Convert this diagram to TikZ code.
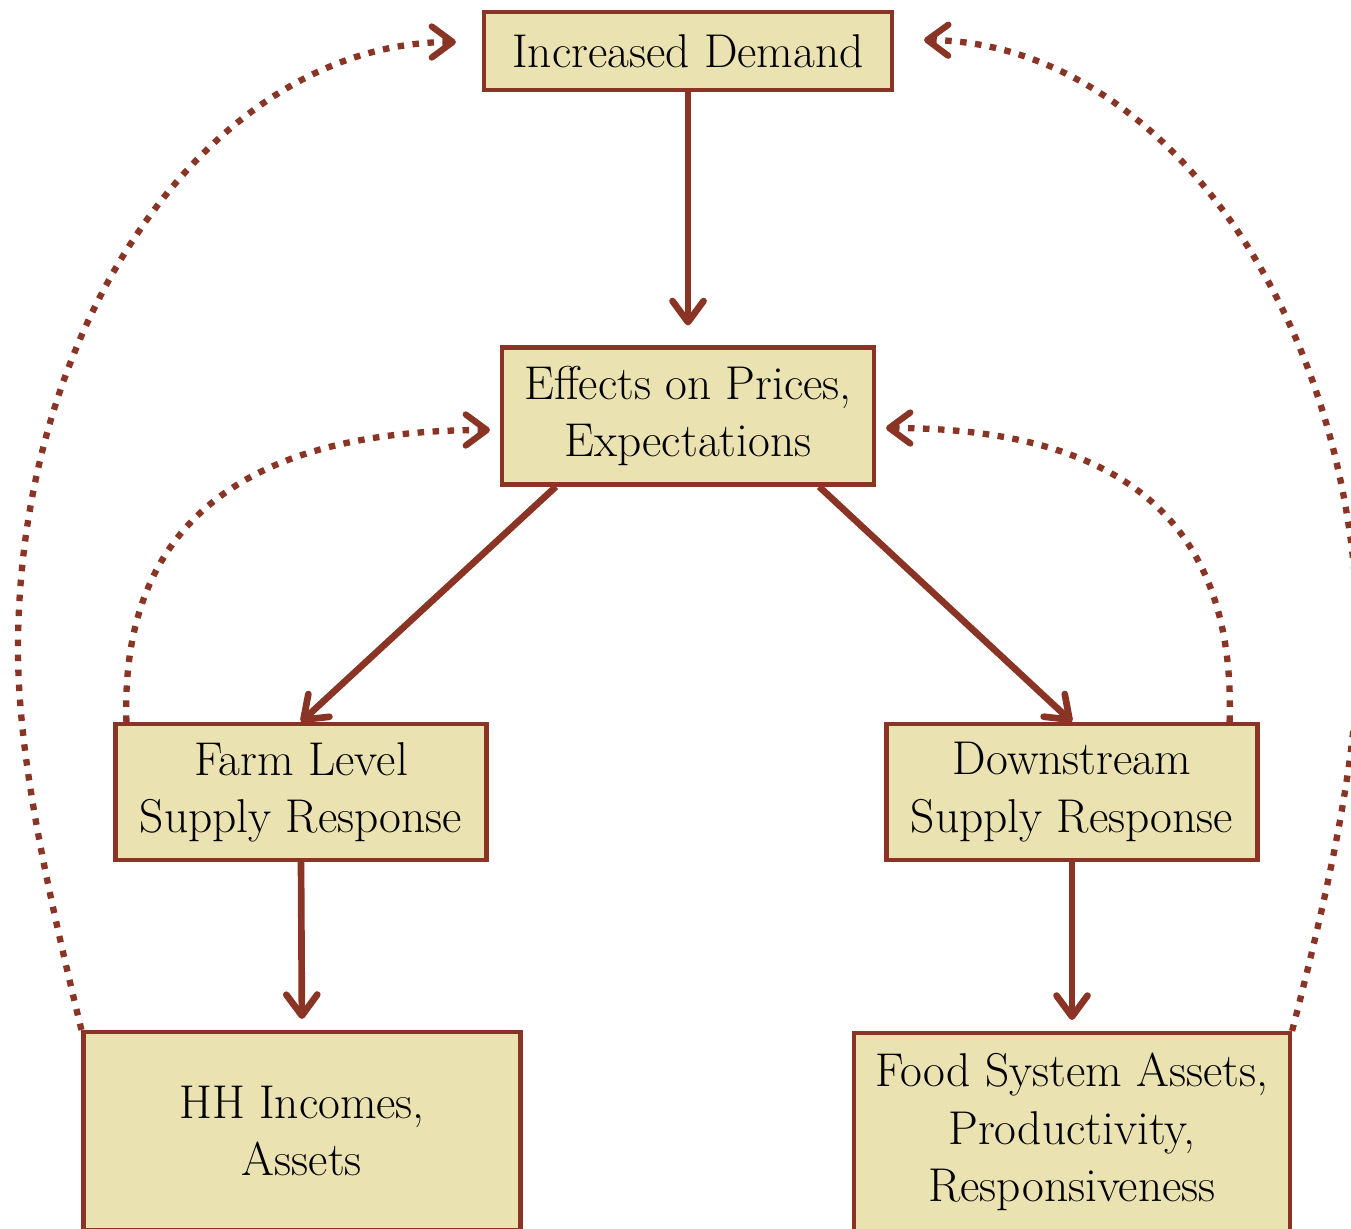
\documentclass[tikz,border=0pt]{standalone}
\usetikzlibrary{arrows.meta}
\begin{document}
\begin{tikzpicture}[x=0.02cm, y=-0.02cm]
\definecolor{edge}{HTML}{8A3426}
\definecolor{boxfill}{HTML}{EAE2B1}
\tikzset{
  box/.style={draw=edge, fill=boxfill, line width=2.4pt, align=center, inner sep=0pt, font=\fontsize{27}{32.6}\selectfont},
  link/.style={draw=edge, line width=3.8pt, -{Straight Barb[length=0.42cm, width=0.62cm, round]}},
  feedback/.style={link, line width=3.6pt, dash pattern=on 0.13cm off 0.17cm},
}
\useasboundingbox (0,0) rectangle (1351,1228);
\node[box, minimum width=8.16cm, minimum height=1.56cm] (demand) at (688,51) {Increased Demand};
\node[box, minimum width=7.44cm, minimum height=2.74cm] (effects) at (688,416) {Effects on Prices,\\Expectations};
\node[box, minimum width=7.42cm, minimum height=2.72cm] (farm) at (301,792) {Farm Level\\Supply Response};
\node[box, minimum width=7.42cm, minimum height=2.72cm] (downstream) at (1072,792) {Downstream\\Supply Response};
\node[box, minimum width=8.74cm, minimum height=3.96cm] (hh) at (302,1131) {HH Incomes,\\Assets};
\node[box, minimum width=8.72cm, minimum height=3.96cm] (food) at (1072,1132) {Food System Assets,\\Productivity,\\Responsiveness};
\draw[link, shorten >=0.4cm] (demand.south) -- (effects.north);
\draw[link] ([xshift=1.12cm]effects.south west) -- (farm.north);
\draw[link] ([xshift=-1.14cm]effects.south east) -- (downstream.north);
\draw[link, shorten >=0.22cm] (farm.south) -- (hh.north);
\draw[link, shorten >=0.22cm] (downstream.south) -- (food.north);
\draw[feedback] ([xshift=0.26cm]farm.north west) .. controls (120,520) and (250,430) .. ([shift={(-10,14)}]effects.west);
\draw[feedback] ([xshift=-0.6cm]downstream.north east) .. controls (1236,520) and (1120,428) .. ([shift={(10,12)}]effects.east);
\draw[feedback] (hh.north west) .. controls (50,900) and (18,760) .. (18,650) .. controls (18,316) and (216,42) .. ([shift={(-26,-9)}]demand.west);
\draw[feedback] (food.north east) .. controls (1326,900) and (1358,760) .. (1358,650) .. controls (1358,316) and (1160,42) .. ([shift={(30,-11)}]demand.east);
\end{tikzpicture}
\end{document}
